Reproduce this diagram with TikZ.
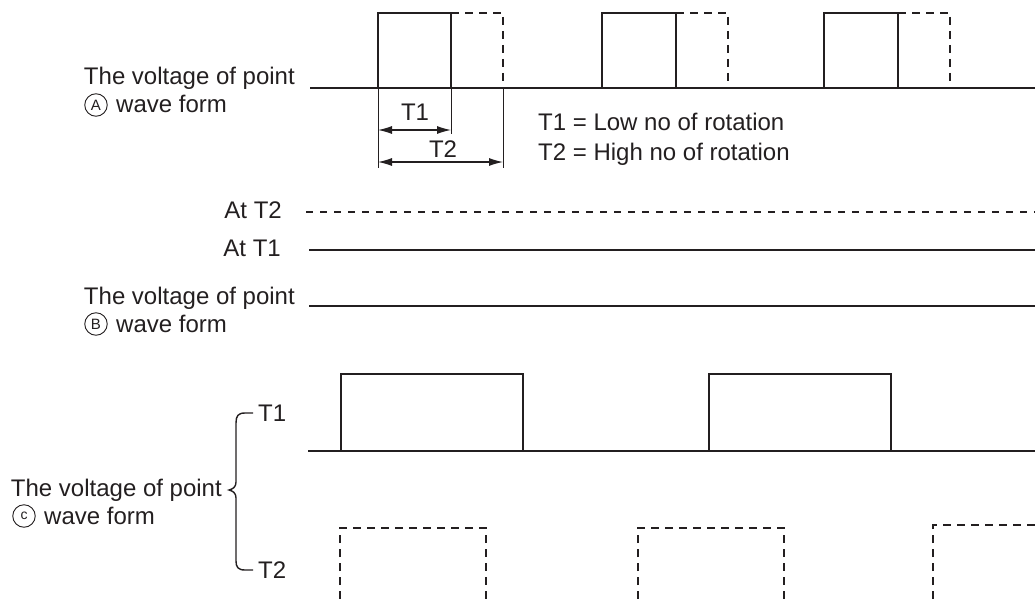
\documentclass[tikz,border=0pt]{standalone}
\usepackage{fontspec}
\setmainfont{Liberation Sans}
\usetikzlibrary{arrows.meta}
\definecolor{ink}{HTML}{231F20}
\begin{document}
\begin{tikzpicture}[x=1pt,y=-1pt,
  every node/.style={font=\fontsize{24}{28}\selectfont, text=ink, inner sep=0pt},
  circlab/.style={circle, draw=ink, line width=0.9pt, minimum size=22.5pt, inner sep=0pt, font=\fontsize{15}{15}\selectfont},
  wave/.style={draw=ink, line width=1.4pt},
  thickwave/.style={draw=ink, line width=2.9pt},
  dashwave/.style={draw=ink, line width=1.4pt, dash pattern=on 8pt off 6pt},
  dimline/.style={draw=ink, line width=1pt},
  dimarrow/.style={draw=ink, line width=1.1pt, {Latex[length=14pt,width=8pt]}-{Latex[length=14pt,width=8pt]}}
]
\useasboundingbox (0,0) rectangle (1035,599);

% ---------- Waveform A ----------
\node[anchor=base east] (la1) at (295,85) {The voltage of point};
\node[circlab] (ca) at (96,105) {A};
\node[anchor=base west] (la2) at (116,113) {wave form};
\draw[wave] (310,88) -- (1035,88);
\foreach \a/\b/\c in {378/451/503, 602/676/728, 824/898/950}{
  \draw[dashwave] (\b,13) -- (\c,13) -- (\c,84);
  \draw[thickwave, line join=miter] (\a,88) -- (\a,13) -- (\b,13) -- (\b,88);
}
% dimension lines
\coordinate (e1t) at (378,88); \coordinate (e1b) at (378,168);
\coordinate (e2t) at (451,88); \coordinate (e2b) at (451,134);
\coordinate (e3t) at (503,88); \coordinate (e3b) at (503,168);
\draw[dimline] (e1t) -- (e1b);
\draw[dimline] (e2t) -- (e2b);
\draw[dimline] (e3t) -- (e3b);
\coordinate (t1l) at (378,130); \coordinate (t1r) at (451,130);
\coordinate (t2l) at (378,162); \coordinate (t2r) at (503,162);
\draw[dimarrow] (t1l) -- (t1r);
\draw[dimarrow] (t2l) -- (t2r);
\node[anchor=base] (dt1) at (415,121) {T1};
\node[anchor=base] (dt2) at (443,157) {T2};
\node[anchor=base west] (leg1) at (538,130) {T1 = Low no of rotation};
\node[anchor=base west] (leg2) at (538,160) {T2 = High no of rotation};

% ---------- At T2 / At T1 ----------
\node[anchor=base east] (at2) at (282,218) {At T2};
\node[anchor=base east] (at1) at (281,256) {At T1};
\coordinate (at2s) at (306,212); \coordinate (at2e) at (1035,212);
\coordinate (at1s) at (309,250); \coordinate (at1e) at (1035,250);
\draw[dashwave, dash pattern=on 7pt off 7pt] (at2s) -- (at2e);
\draw[wave] (at1s) -- (at1e);

% ---------- Waveform B ----------
\node[anchor=base east] (lb1) at (295,304) {The voltage of point};
\node[circlab] (cb) at (96,324) {B};
\node[anchor=base west] (lb2) at (116,332) {wave form};
\coordinate (bs) at (309,306); \coordinate (be) at (1035,306);
\draw[wave] (bs) -- (be);

% ---------- Waveform C ----------
\node[anchor=base east] (lc1) at (222,496) {The voltage of point};
\node[circlab, font=\fontsize{14}{14}\selectfont] (cc) at (24,516) {c};
\node[anchor=base west] (lc2) at (44,524) {wave form};
\draw[wave] (253,413) -- (245,413) .. controls (238,413) and (236,416) .. (236,423)
  -- (236,482) .. controls (236,487) and (233,489) .. (229,490)
  .. controls (233,491) and (236,493) .. (236,498)
  -- (236,561) .. controls (236,567) and (238,570) .. (245,570) -- (253,570);
\node[anchor=base west] (ct1) at (258,421) {T1};
\node[anchor=base west] (ct2) at (258,578) {T2};
% T1 waveform
\draw[wave] (308,451) -- (1035,451);
\foreach \a/\b in {341/523, 709/891}{
  \draw[wave] (\a,451) -- (\a,374) -- (\b,374) -- (\b,451);
}
% T2 waveform (dashed)
\foreach \a/\b in {340/486, 638/784}{
  \draw[dashwave] (\a,599) -- (\a,528) -- (\b,528) -- (\b,599);
}
\draw[dashwave] (933,599) -- (933,525) -- (1035,525);
\end{tikzpicture}
\end{document}
